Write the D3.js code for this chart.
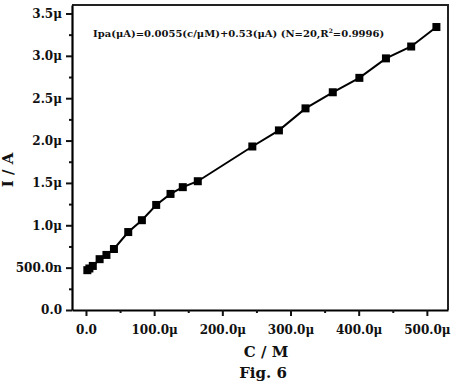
<!DOCTYPE html>
<html>
<head>
<meta charset="utf-8">
<script src="https://cdn.jsdelivr.net/npm/d3@7"></script>
<style>
  html, body { margin: 0; padding: 0; background: #fff; }
  svg { display: block; }
  text { font-family: "DejaVu Serif", "Liberation Serif", serif; font-weight: bold; fill: #111; }
</style>
</head>
<body>
<script>
// Concentration (μM)
const concentration = [2, 5, 10, 20, 30, 41, 62, 82, 103, 124, 142, 164, 244, 283, 322, 362, 401, 440, 477, 514];
// Peak current (μA)
const current = [0.47, 0.49, 0.52, 0.60, 0.65, 0.72, 0.92, 1.06, 1.24, 1.37, 1.45, 1.52, 1.93, 2.12, 2.38, 2.57, 2.74, 2.97, 3.11, 3.34];

const xTicks = [0, 100, 200, 300, 400, 500];
const xTickLabels = ["0.0", "100.0μ", "200.0μ", "300.0μ", "400.0μ", "500.0μ"];
const xMinorTicks = [50, 150, 250, 350, 450];
const yTicks = [0, 0.5, 1.0, 1.5, 2.0, 2.5, 3.0, 3.5];
const yTickLabels = ["0.0", "500.0n", "1.0μ", "1.5μ", "2.0μ", "2.5μ", "3.0μ", "3.5μ"];
const yMinorTicks = [0.25, 0.75, 1.25, 1.75, 2.25, 2.75, 3.25];

const equationText = "Ipa(μA)=0.0055(c/μM)+0.53(μA) (N=20,R";
const xTitle = "C / M";
const yTitle = "I / A";
const caption = "Fig. 6";

const W = 455, H = 382;
const pL = 72, pR = 448, pT = 5, pB = 310;

const svg = d3.select("body").append("svg").attr("width", W).attr("height", H);

const x = d3.scaleLinear().domain([-20.5, 531]).range([pL, pR]);
const y = d3.scaleLinear().domain([0, 3.6]).range([pB, pT]);

// frame (top & right)
svg.append("path")
  .attr("d", `M${pL},${pT}H${pR}V${pB}`)
  .attr("fill", "none").attr("stroke", "#222").attr("stroke-width", 2);

// x axis major
const xAxis = svg.append("g").attr("transform", `translate(0,${pB})`)
  .call(d3.axisBottom(x).tickValues(xTicks)
    .tickFormat((d, i) => xTickLabels[i]).tickSize(6).tickSizeOuter(0).tickPadding(9));
xAxis.select(".domain").attr("stroke", "#000").attr("stroke-width", 2.2);
xAxis.selectAll(".tick line").attr("stroke", "#111").attr("stroke-width", 2);
xAxis.selectAll("text").attr("font-size", 12).attr("font-family", "DejaVu Serif").attr("font-weight", "bold").attr("fill", "#111");
// x minor
svg.append("g").attr("transform", `translate(0,${pB})`)
  .call(d3.axisBottom(x).tickValues(xMinorTicks).tickFormat("").tickSize(3).tickSizeOuter(0))
  .call(g => g.select(".domain").remove())
  .call(g => g.selectAll(".tick line").attr("stroke", "#111").attr("stroke-width", 2));

// y axis major
const yAxis = svg.append("g").attr("transform", `translate(${pL},0)`)
  .call(d3.axisLeft(y).tickValues(yTicks)
    .tickFormat((d, i) => yTickLabels[i]).tickSize(6).tickSizeOuter(0).tickPadding(4));
yAxis.select(".domain").attr("stroke", "#000").attr("stroke-width", 2.2);
yAxis.selectAll(".tick line").attr("stroke", "#111").attr("stroke-width", 2);
yAxis.selectAll("text").attr("font-size", 12).attr("font-family", "DejaVu Serif").attr("font-weight", "bold").attr("fill", "#111");
// y minor
svg.append("g").attr("transform", `translate(${pL},0)`)
  .call(d3.axisLeft(y).tickValues(yMinorTicks).tickFormat("").tickSize(3).tickSizeOuter(0))
  .call(g => g.select(".domain").remove())
  .call(g => g.selectAll(".tick line").attr("stroke", "#111").attr("stroke-width", 2));

// line
const line = d3.line().x((d, i) => x(concentration[i])).y(d => y(d));
svg.append("path").datum(current)
  .attr("d", line).attr("fill", "none").attr("stroke", "#000").attr("stroke-width", 2);

// markers
const s = 8;
svg.append("g").selectAll("rect").data(current).join("rect")
  .attr("x", (d, i) => x(concentration[i]) - s / 2)
  .attr("y", d => y(d) - s / 2)
  .attr("width", s).attr("height", s).attr("fill", "#000");

// equation
const eq = svg.append("text").attr("x", 93).attr("y", 37).attr("font-size", 10);
eq.append("tspan").text(equationText);
eq.append("tspan").attr("dy", -4).attr("font-size", 6).text("2");
eq.append("tspan").attr("dy", 4).text("=0.9996)");

// axis titles
svg.append("text").attr("x", 266).attr("y", 357).attr("text-anchor", "middle")
  .attr("font-size", 15).attr("font-family", "Liberation Serif").text(xTitle);
svg.append("text").attr("transform", "translate(13,170) rotate(-90)").attr("text-anchor", "middle")
  .attr("font-size", 15).attr("font-family", "Liberation Serif").text(yTitle);
svg.append("text").attr("x", 263).attr("y", 378).attr("text-anchor", "middle")
  .attr("font-size", 15).attr("font-family", "Liberation Serif").text(caption);
</script>
</body>
</html>
